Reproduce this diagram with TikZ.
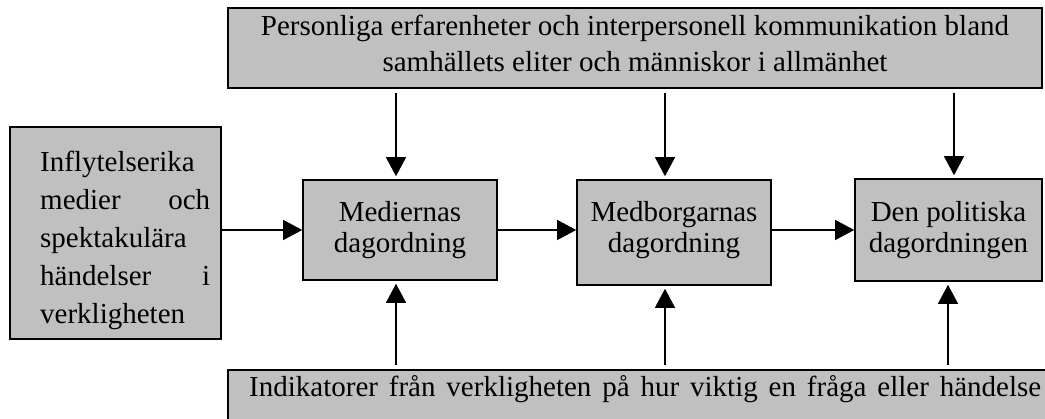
\documentclass[tikz,border=0pt]{standalone}
\usepackage{fontspec}
\setmainfont{Liberation Serif}
\usetikzlibrary{arrows.meta}
\definecolor{boxgray}{HTML}{C0C0C0}
\begin{document}
\begin{tikzpicture}[x=1pt,y=-1pt,
  box/.style={draw=black,line width=1.6pt,fill=boxgray,rectangle,inner sep=0pt},
  txt/.style={inner sep=0pt,align=center},
  arr/.style={line width=1.3pt,-{Triangle[length=19pt,width=20pt]}},
  midfont/.style={font=\fontsize{29}{31}\selectfont},
  topfont/.style={font=\fontsize{29}{36}\selectfont},
  srcfont/.style={font=\fontsize{29}{38}\selectfont}]
\useasboundingbox (0,0) rectangle (1045,419);
\clip (0,0) rectangle (1045,419);

% boxes
\node[box,minimum width=211pt,minimum height=212pt] (src) at (115.5,233) {};
\node[box,minimum width=814pt,minimum height=80pt] (top) at (635,48) {};
\node[box,minimum width=194pt,minimum height=100pt] (med) at (400,230) {};
\node[box,minimum width=194pt,minimum height=105pt] (cit) at (674,232.5) {};
\node[box,minimum width=187pt,minimum height=102pt] (pol) at (948.5,230) {};
\node[box,minimum width=842pt,minimum height=70pt] (ind) at (649,405) {};

% texts
\node[txt,srcfont,align=left,anchor=north west] (srctext) at (40,151.2)
  {\makebox[170pt][l]{Inflytelserika}\\
   \makebox[170pt][s]{medier och}\\
   \makebox[170pt][l]{spektakulära}\\
   \makebox[170pt][s]{händelser i}\\
   \makebox[170pt][l]{verkligheten}};
\node[txt,topfont,anchor=north] (toptext) at (635,14.9)
  {Personliga erfarenheter och interpersonell kommunikation bland\\
   samhällets eliter och människor i allmänhet};
\node[txt,midfont,anchor=north] (medtext) at (400,201.2) {Mediernas\\dagordning};
\node[txt,midfont,anchor=north] (cittext) at (674,201.2) {Medborgarnas\\dagordning};
\node[txt,midfont,anchor=north] (poltext) at (948.5,201.2) {Den politiska\\dagordningen};
\node[txt,font=\fontsize{29}{36}\selectfont,anchor=base west] (indtext) at (249,397)
  {\makebox[792pt][s]{Indikatorer från verkligheten på hur viktig en fråga eller händelse}};

% horizontal flow
\draw[arr] (src.east |- med.west) -- (med.west);
\draw[arr] (med.east) -- (med.east -| cit.west);
\draw[arr] (cit.east |- pol.west) -- (pol.west);

% arrows from the upper box
\coordinate (mt) at ([xshift=-4pt]med.north);
\coordinate (ct) at ([xshift=-9pt]cit.north);
\coordinate (pt) at ([xshift=5.5pt]pol.north);
\draw[arr,shorten <=4pt,shorten >=3pt] (mt |- top.south) -- (mt);
\draw[arr,shorten <=4pt,shorten >=3pt] (ct |- top.south) -- (ct);
\draw[arr,shorten <=4pt,shorten >=3pt] (pt |- top.south) -- (pt);

% arrows from the lower box
\coordinate (mb) at ([xshift=-4pt]med.south);
\coordinate (cb) at ([xshift=-9pt]cit.south);
\coordinate (pb) at ([xshift=-0.5pt]pol.south);
\draw[arr,shorten <=4pt,shorten >=3pt] (mb |- ind.north) -- (mb);
\draw[arr,shorten <=4pt,shorten >=3pt] (cb |- ind.north) -- (cb);
\draw[arr,shorten <=4pt,shorten >=3pt] (pb |- ind.north) -- (pb);
\end{tikzpicture}
\end{document}
